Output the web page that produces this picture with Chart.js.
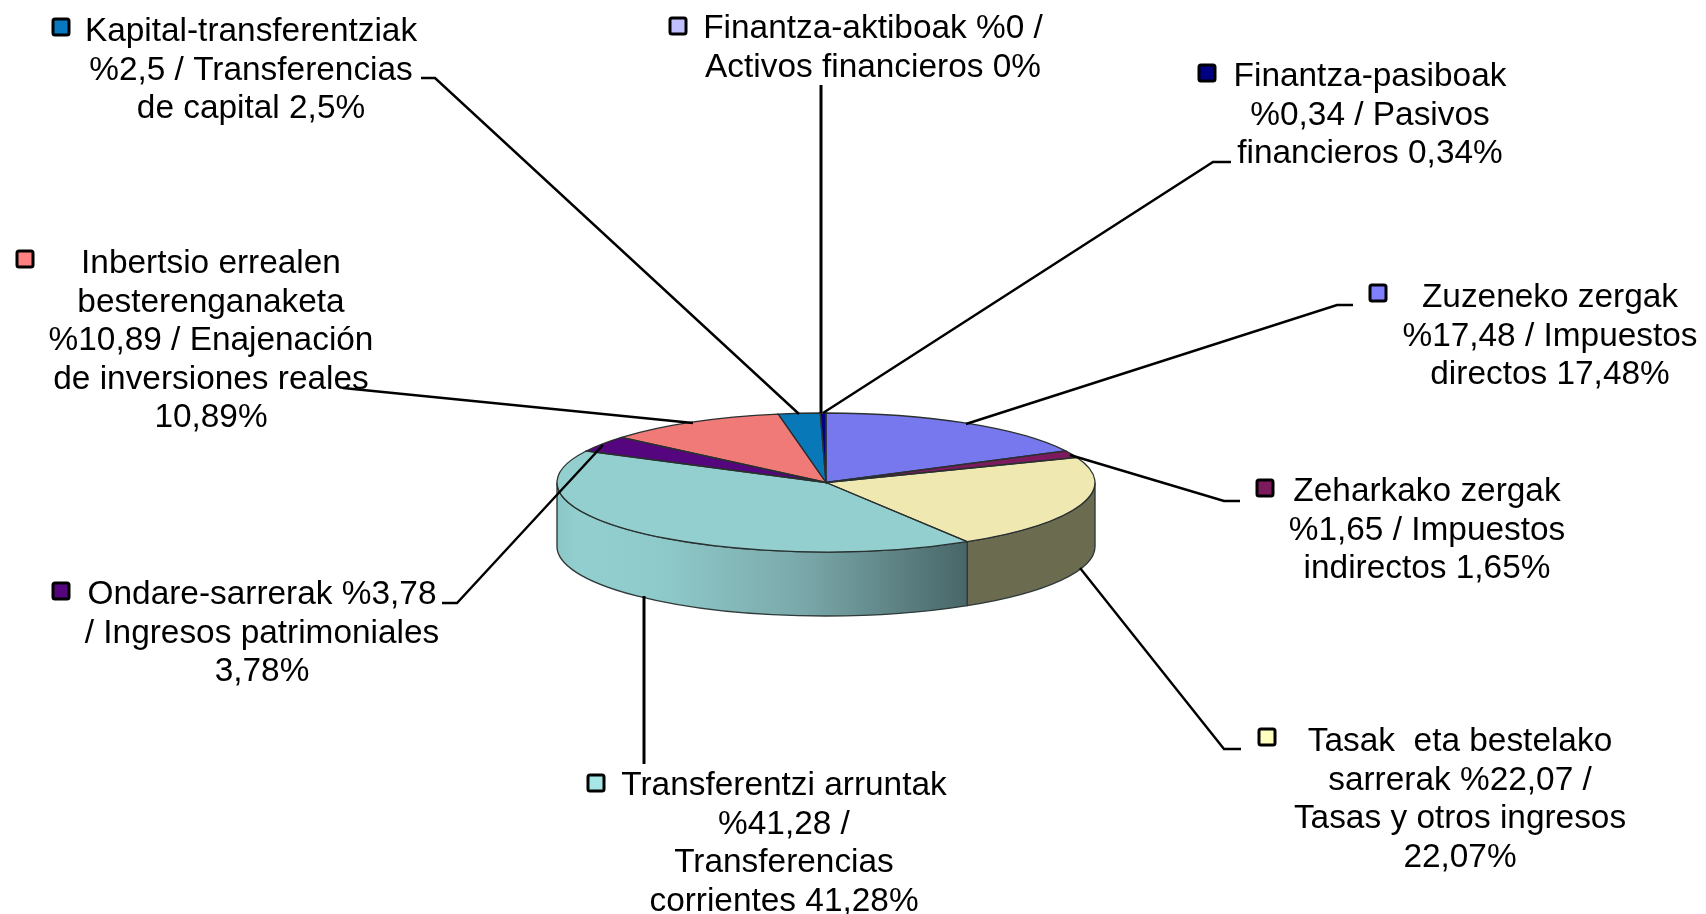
<!DOCTYPE html>
<html>
<head>
<meta charset="utf-8">
<style>
html, body { margin: 0; padding: 0; background: #fff; }
canvas { display: block; }
</style>
<script src="https://cdn.jsdelivr.net/npm/chart.js@4/dist/chart.umd.min.js"></script>
</head>
<body>
<canvas id="pie3d" width="1706" height="914"></canvas>
<script>
const categories = ["Zuzeneko zergak", "Zeharkako zergak", "Tasak eta bestelako sarrerak", "Transferentzi arruntak",
    "Ondare-sarrerak", "Inbertsio errealen besterenganaketa", "Kapital-transferentziak", "Finantza-aktiboak", "Finantza-pasiboak"];
const percents = [17.48, 1.65, 22.07, 41.28, 3.78, 10.89, 2.5, 0, 0.34];
const topColors = ["#7777ee", "#7d1a5e", "#efe9b1", "#93cfcf", "#55057d", "#f07a78", "#0878b8", "#c0c0ff", "#000080"];
const sideColors = ["#4a4a96", "#4f103b", "#6b6b50", "#93cfcf", "#360450", "#984d4c", "#054c75", "#7a7aa2", "#000050"];
const keyColors = ["#8080ff", "#7d1a5e", "#ffffc0", "#a6e6e6", "#55057d", "#ff8080", "#0878c0", "#c0c0ff", "#000080"];

const labelLines = [
    ["Zuzeneko zergak", "%17,48 / Impuestos", "directos 17,48%"],
    ["Zeharkako zergak", "%1,65 / Impuestos", "indirectos 1,65%"],
    ["Tasak  eta bestelako", "sarrerak %22,07 /", "Tasas y otros ingresos", "22,07%"],
    ["Transferentzi arruntak", "%41,28 /", "Transferencias", "corrientes 41,28%"],
    ["Ondare-sarrerak %3,78", "/ Ingresos patrimoniales", "3,78%"],
    ["Inbertsio errealen", "besterenganaketa", "%10,89 / Enajenación", "de inversiones reales", "10,89%"],
    ["Kapital-transferentziak", "%2,5 / Transferencias", "de capital 2,5%"],
    ["Finantza-aktiboak %0 /", "Activos financieros 0%"],
    ["Finantza-pasiboak", "%0,34 / Pasivos", "financieros 0,34%"]
];

// where each label sits: text centre, first baseline, legend key centre
const labelCx = [1550, 1427, 1460, 784, 262, 211, 251, 873, 1370];
const labelY = [307, 501, 751, 795, 604, 273, 41, 38, 86];
const keyX = [1378, 1265, 1267, 596, 61, 25, 61, 678, 1207];
const keyY = [293, 488, 737, 783, 591, 259, 27, 26, 73];
const lineGap = 38.6;

// leader lines, label end first and pie end last
const leaders = [
    [[1353, 305], [1337, 305], [966, 424]],
    [[1240, 501], [1224, 501], [1070, 455]],
    [[1241, 749], [1224, 749], [1080, 568]],
    [[644, 764], [644, 596]],
    [[442, 603], [457, 603], [603, 445]],
    [[343, 388], [693, 423]],
    [[421, 78], [435, 78], [799, 414]],
    [[821, 85], [821, 413]],
    [[1231, 162], [1213, 162], [823, 413]]
];

const cx = 826, cy = 482.5, rx = 269, ry = 69.5, depth = 64;

function ellipsePoint(a) {
    return [cx + rx * Math.cos(a), cy + ry * Math.sin(a)];
}

// side wall under the front half of the pie, read from the arc elements
const sideWall = {
    id: "sideWall",
    beforeDatasetsDraw(chart) {
        const ctx = chart.ctx;
        const arcs = chart.getDatasetMeta(0).data;
        arcs.forEach(function(arc, i) {
            const p = arc.getProps(["startAngle", "endAngle"]);
            // canvas angles of the front half are 0..PI
            const a0 = Math.max(p.startAngle, 0);
            const a1 = Math.min(p.endAngle, Math.PI);
            if (a1 <= a0) return;
            ctx.save();
            ctx.beginPath();
            ctx.ellipse(cx, cy, rx, ry, 0, a0, a1);
            ctx.ellipse(cx, cy + depth, rx, ry, 0, a1, a0, true);
            ctx.closePath();
            const g = ctx.createLinearGradient(ellipsePoint(a1)[0], 0, ellipsePoint(a0)[0], 0);
            if (i === 3) {
                g.addColorStop(0, "#8cc6c6");
                g.addColorStop(0.05, "#93cfcf");
                g.addColorStop(0.25, "#8fcaca");
                g.addColorStop(0.6, "#7aa8aa");
                g.addColorStop(1, "#486668");
            } else {
                g.addColorStop(0, sideColors[i]);
                g.addColorStop(1, sideColors[i]);
            }
            ctx.fillStyle = g;
            ctx.fill();
            ctx.strokeStyle = "#2f3a3a";
            ctx.lineWidth = 1.4;
            ctx.stroke();
            ctx.restore();
        });
        // squash the circle the library draws into the top ellipse
        ctx.save();
        ctx.translate(cx, cy);
        ctx.scale(1, ry / rx);
        ctx.translate(-cx, -cy);
    },
    afterDatasetsDraw(chart) {
        const ctx = chart.ctx;
        ctx.restore();
        // outlines in unsquashed pixels so they keep an even weight
        chart.getDatasetMeta(0).data.forEach(function(arc) {
            const p = arc.getProps(["startAngle", "endAngle"]);
            if (p.endAngle <= p.startAngle) return;
            ctx.beginPath();
            ctx.moveTo(cx, cy);
            ctx.ellipse(cx, cy, rx, ry, 0, p.startAngle, p.endAngle);
            ctx.closePath();
            ctx.strokeStyle = "#2a3030";
            ctx.lineWidth = 1.3;
            ctx.stroke();
        });
    }
};

// leader lines, legend keys and wrapped text
const pieLabels = {
    id: "pieLabels",
    afterDraw(chart) {
        const ctx = chart.ctx;
        ctx.save();
        ctx.strokeStyle = "#000";
        leaders.forEach(function(pts) {
            // the straight vertical ones look heavier in the original
            ctx.lineWidth = pts[0][0] === pts[pts.length - 1][0] ? 3 : 2.4;
            ctx.beginPath();
            pts.forEach(function(pt, k) {
                if (k === 0) ctx.moveTo(pt[0], pt[1]); else ctx.lineTo(pt[0], pt[1]);
            });
            ctx.stroke();
        });
        ctx.font = '33.4px "Liberation Sans"';
        ctx.textAlign = "center";
        ctx.textBaseline = "alphabetic";
        labelLines.forEach(function(lines, i) {
            ctx.fillStyle = "#000";
            lines.forEach(function(t, k) {
                ctx.fillText(t, labelCx[i], labelY[i] + k * lineGap);
            });
            ctx.beginPath();
            ctx.roundRect(keyX[i] - 8, keyY[i] - 8, 16, 16, 2);
            ctx.fillStyle = keyColors[i];
            ctx.fill();
            ctx.lineWidth = 3;
            ctx.strokeStyle = "#000";
            ctx.stroke();
        });
        ctx.restore();
    }
};

new Chart(document.getElementById("pie3d"), {
    type: "pie",
    data: {
        labels: categories,
        datasets: [{
            data: percents,
            backgroundColor: topColors,
            borderWidth: 0
        }]
    },
    options: {
        responsive: false,
        animation: false,
        radius: rx,
        layout: { padding: { left: 0, right: 1706 - 2 * cx, top: 2 * cy - 914, bottom: 0 } },
        plugins: {
            legend: { display: false },
            tooltip: { enabled: false },
            title: { display: false }
        }
    },
    plugins: [sideWall, pieLabels]
});
</script>
</body>
</html>
